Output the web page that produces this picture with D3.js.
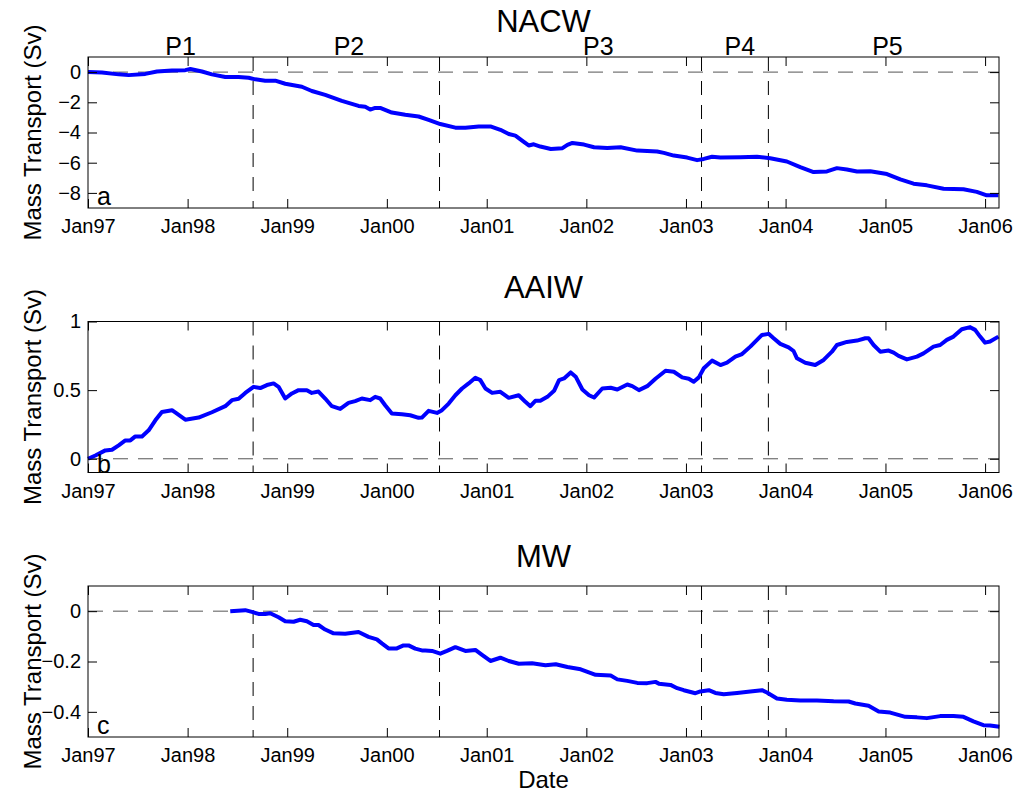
<!DOCTYPE html>
<html>
<head>
<meta charset="utf-8">
<script src="https://cdn.jsdelivr.net/npm/d3@7"></script>
<style>
  body { margin: 0; background: #fff; }
  svg { display: block; }
  text { font-family: "Liberation Sans", Arial, Helvetica, sans-serif; fill: #000; }
</style>
</head>
<body>
<svg id="fig" width="1023" height="792"></svg>
<script>
// Cumulative mass transport (Sv) by water mass, [decimal year, value]
const nacw = [
  [1997.000, 0.00], [1997.140, -0.03], [1997.308, -0.15], [1997.408, -0.20],
  [1997.575, -0.12], [1997.692, 0.04], [1997.843, 0.11], [1997.977, 0.13],
  [1998.027, 0.20], [1998.144, 0.04], [1998.244, -0.15], [1998.378, -0.33],
  [1998.512, -0.33], [1998.612, -0.37], [1998.679, -0.48], [1998.779, -0.57],
  [1998.880, -0.57], [1998.980, -0.77], [1999.147, -0.97], [1999.247, -1.25],
  [1999.381, -1.51], [1999.548, -1.91], [1999.716, -2.24], [1999.783, -2.30],
  [1999.833, -2.48], [1999.883, -2.37], [1999.933, -2.37], [2000.050, -2.68],
  [2000.184, -2.83], [2000.318, -2.94], [2000.418, -3.16], [2000.535, -3.44],
  [2000.686, -3.68], [2000.786, -3.68], [2000.920, -3.60], [2001.037, -3.60],
  [2001.137, -3.82], [2001.221, -4.10], [2001.288, -4.21], [2001.355, -4.54],
  [2001.421, -4.86], [2001.472, -4.78], [2001.538, -4.93], [2001.643, -5.09],
  [2001.760, -5.04], [2001.810, -4.82], [2001.860, -4.69], [2001.977, -4.80],
  [2002.077, -4.98], [2002.210, -5.02], [2002.344, -4.98], [2002.511, -5.20],
  [2002.711, -5.26], [2002.778, -5.35], [2002.878, -5.53], [2003.012, -5.66],
  [2003.112, -5.83], [2003.179, -5.75], [2003.262, -5.61], [2003.346, -5.66],
  [2003.546, -5.64], [2003.713, -5.61], [2003.846, -5.70], [2004.013, -5.92],
  [2004.147, -6.29], [2004.280, -6.62], [2004.414, -6.58], [2004.514, -6.36],
  [2004.614, -6.45], [2004.715, -6.58], [2004.848, -6.56], [2005.015, -6.75],
  [2005.149, -7.11], [2005.282, -7.39], [2005.416, -7.50], [2005.583, -7.72],
  [2005.783, -7.76], [2005.917, -7.93], [2006.017, -8.16], [2006.134, -8.16]
];

const aaiw = [
  [1997.000, 0.000], [1997.074, 0.024], [1997.174, 0.061], [1997.241, 0.066],
  [1997.308, 0.098], [1997.375, 0.134], [1997.425, 0.134], [1997.475, 0.163],
  [1997.542, 0.163], [1997.609, 0.207], [1997.676, 0.280], [1997.742, 0.341],
  [1997.843, 0.354], [1997.893, 0.329], [1997.977, 0.285], [1998.110, 0.300],
  [1998.244, 0.339], [1998.378, 0.383], [1998.445, 0.427], [1998.512, 0.437],
  [1998.579, 0.480], [1998.662, 0.524], [1998.729, 0.515], [1998.796, 0.537],
  [1998.863, 0.549], [1998.913, 0.524], [1998.980, 0.439], [1999.047, 0.476],
  [1999.114, 0.500], [1999.197, 0.500], [1999.247, 0.480], [1999.314, 0.490],
  [1999.381, 0.439], [1999.448, 0.383], [1999.532, 0.363], [1999.615, 0.407],
  [1999.682, 0.420], [1999.749, 0.439], [1999.833, 0.427], [1999.883, 0.451],
  [1999.933, 0.439], [1999.983, 0.390], [2000.050, 0.329], [2000.151, 0.324],
  [2000.234, 0.317], [2000.318, 0.298], [2000.351, 0.300], [2000.418, 0.349],
  [2000.502, 0.334], [2000.552, 0.354], [2000.619, 0.402], [2000.686, 0.463],
  [2000.753, 0.512], [2000.819, 0.549], [2000.886, 0.590], [2000.936, 0.573],
  [2000.987, 0.512], [2001.054, 0.480], [2001.137, 0.488], [2001.221, 0.444],
  [2001.321, 0.463], [2001.388, 0.415], [2001.438, 0.383], [2001.488, 0.422],
  [2001.538, 0.422], [2001.609, 0.451], [2001.676, 0.495], [2001.726, 0.573],
  [2001.776, 0.585], [2001.843, 0.629], [2001.893, 0.598], [2001.960, 0.505],
  [2002.027, 0.463], [2002.077, 0.446], [2002.160, 0.512], [2002.244, 0.517],
  [2002.311, 0.505], [2002.411, 0.541], [2002.461, 0.529], [2002.528, 0.500],
  [2002.611, 0.529], [2002.694, 0.583], [2002.795, 0.641], [2002.878, 0.634],
  [2002.962, 0.593], [2003.028, 0.583], [2003.078, 0.561], [2003.129, 0.593],
  [2003.179, 0.659], [2003.262, 0.715], [2003.346, 0.683], [2003.412, 0.700],
  [2003.496, 0.744], [2003.563, 0.763], [2003.646, 0.817], [2003.763, 0.902],
  [2003.830, 0.910], [2003.880, 0.878], [2003.947, 0.837], [2004.030, 0.812],
  [2004.080, 0.785], [2004.114, 0.732], [2004.197, 0.700], [2004.297, 0.683],
  [2004.381, 0.720], [2004.464, 0.780], [2004.514, 0.829], [2004.614, 0.851],
  [2004.715, 0.861], [2004.798, 0.878], [2004.831, 0.878], [2004.881, 0.829],
  [2004.948, 0.780], [2005.032, 0.788], [2005.082, 0.773], [2005.132, 0.749],
  [2005.215, 0.724], [2005.316, 0.744], [2005.382, 0.768], [2005.482, 0.817],
  [2005.549, 0.829], [2005.616, 0.866], [2005.683, 0.890], [2005.766, 0.944],
  [2005.850, 0.959], [2005.900, 0.939], [2005.950, 0.890], [2006.000, 0.846],
  [2006.050, 0.854], [2006.134, 0.890]
];

const mw = [
  [1998.428, 0.000], [1998.579, 0.004], [1998.645, -0.003], [1998.712, -0.011],
  [1998.779, -0.011], [1998.829, -0.008], [1998.913, -0.024], [1998.980, -0.040],
  [1999.064, -0.042], [1999.130, -0.034], [1999.197, -0.040], [1999.264, -0.055],
  [1999.314, -0.055], [1999.381, -0.073], [1999.465, -0.088], [1999.582, -0.090],
  [1999.716, -0.083], [1999.816, -0.102], [1999.900, -0.112], [1999.950, -0.128],
  [2000.017, -0.148], [2000.100, -0.148], [2000.167, -0.136], [2000.217, -0.136],
  [2000.284, -0.149], [2000.351, -0.156], [2000.385, -0.156], [2000.452, -0.158],
  [2000.535, -0.169], [2000.602, -0.158], [2000.686, -0.143], [2000.786, -0.158],
  [2000.886, -0.154], [2000.953, -0.174], [2001.037, -0.198], [2001.137, -0.185],
  [2001.221, -0.198], [2001.321, -0.209], [2001.455, -0.207], [2001.589, -0.215],
  [2001.693, -0.211], [2001.810, -0.222], [2001.943, -0.231], [2002.093, -0.253],
  [2002.244, -0.256], [2002.311, -0.271], [2002.411, -0.277], [2002.511, -0.285],
  [2002.611, -0.286], [2002.694, -0.281], [2002.728, -0.288], [2002.845, -0.293],
  [2002.912, -0.306], [2002.978, -0.314], [2003.095, -0.326], [2003.145, -0.319],
  [2003.229, -0.314], [2003.295, -0.325], [2003.379, -0.330], [2003.513, -0.325],
  [2003.646, -0.319], [2003.763, -0.314], [2003.813, -0.323], [2003.913, -0.347],
  [2004.013, -0.352], [2004.147, -0.355], [2004.314, -0.355], [2004.481, -0.358],
  [2004.631, -0.359], [2004.698, -0.367], [2004.831, -0.376], [2004.932, -0.399],
  [2005.048, -0.403], [2005.199, -0.420], [2005.316, -0.422], [2005.416, -0.425],
  [2005.549, -0.417], [2005.683, -0.417], [2005.783, -0.420], [2005.883, -0.438],
  [2005.983, -0.453], [2006.050, -0.454], [2006.144, -0.459]
];

const series = [nacw, aaiw, mw];
const titles = ["NACW", "AAIW", "MW"];
const panelLetters = ["a", "b", "c"];
const yDomains = [[-9, 1], [-0.1, 1], [-0.5, 0.1]];
const yTicks = [[-8, -6, -4, -2, 0], [0, 0.5, 1], [-0.4, -0.2, 0]];
const xStart = "1997-01-01";
const xEnd = "2006-02-21";
const xTickYears = [1997, 1998, 1999, 2000, 2001, 2002, 2003, 2004, 2005, 2006];
// Boundaries between the sampling periods P1..P5
const periodBounds = ["1998-08-29", "2000-07-12", "2003-02-27", "2003-10-30"];
const periodLabels = ["P1", "P2", "P3", "P4", "P5"];
const periodLabelAt = [1997.93, 1999.62, 2002.12, 2003.54, 2005.02];

// decimal year -> Date
function decYear(t) {
  const y = Math.floor(t);
  const a = new Date(y, 0, 1), b = new Date(y + 1, 0, 1);
  return new Date(+a + (t - y) * (b - a));
}
const parse = d3.timeParse("%Y-%m-%d");

const svg = d3.select("#fig");
const left = 88, right = 999, panelH = 151;
const tops = [57, 321.5, 586];
const tickLen = 9;

const x = d3.scaleTime().domain([parse(xStart), parse(xEnd)]).range([left, right]);
const xTicks = xTickYears.map(y => new Date(y, 0, 1));
const fmt = d3.timeFormat("%b%y");

series.forEach((data, i) => {
  const top = tops[i], bottom = top + panelH;
  const y = d3.scaleLinear().domain(yDomains[i]).range([bottom, top]);
  const g = svg.append("g");

  // zero reference
  g.append("line")
    .attr("x1", left).attr("x2", right)
    .attr("y1", y(0)).attr("y2", y(0))
    .attr("stroke", "#555").attr("stroke-width", 1)
    .attr("stroke-dasharray", "15,10");

  // period boundaries
  g.selectAll("line.bound").data(periodBounds).join("line")
    .attr("class", "bound")
    .attr("x1", d => x(parse(d))).attr("x2", d => x(parse(d)))
    .attr("y1", top).attr("y2", bottom)
    .attr("stroke", "#000").attr("stroke-width", 1)
    .attr("stroke-dasharray", "14,10");

  // series
  g.append("path")
    .datum(data)
    .attr("fill", "none")
    .attr("stroke", "#0000ff")
    .attr("stroke-width", 4)
    .attr("stroke-linejoin", "round")
    .attr("d", d3.line().x(d => x(decYear(d[0]))).y(d => y(d[1])));

  // axes with inward ticks on all four sides
  const styleAxis = sel => {
    sel.select(".domain").remove();
    sel.selectAll(".tick line").attr("stroke", "#000");
    sel.attr("font-family", "Liberation Sans, Arial, Helvetica, sans-serif").attr("font-size", 20);
    sel.selectAll("text").attr("fill", "#000");
  };
  g.append("g").attr("transform", `translate(0,${bottom})`)
    .call(d3.axisBottom(x).tickValues(xTicks).tickFormat(fmt).tickSize(-tickLen).tickPadding(11))
    .call(styleAxis);
  g.append("g").attr("transform", `translate(0,${top})`)
    .call(d3.axisTop(x).tickValues(xTicks).tickFormat("").tickSize(-tickLen))
    .call(styleAxis);
  g.append("g").attr("transform", `translate(${left},0)`)
    .call(d3.axisLeft(y).tickValues(yTicks[i]).tickFormat(d3.format("")).tickSize(-tickLen).tickPadding(7))
    .call(styleAxis);
  g.append("g").attr("transform", `translate(${right},0)`)
    .call(d3.axisRight(y).tickValues(yTicks[i]).tickFormat("").tickSize(-tickLen))
    .call(styleAxis);

  // frame
  g.append("rect")
    .attr("x", left).attr("y", top)
    .attr("width", right - left).attr("height", panelH)
    .attr("fill", "none").attr("stroke", "#000").attr("stroke-width", 1);

  // title
  const titleBase = i === 0 ? top - 25 : (i === 1 ? top - 23.5 : top - 19.5);
  svg.append("text")
    .attr("x", (left + right) / 2).attr("y", titleBase)
    .attr("text-anchor", "middle").attr("font-size", 31)
    .text(titles[i]);

  // panel letter
  svg.append("text")
    .attr("x", left + 9).attr("y", i === 1 ? bottom : bottom - 3)
    .attr("font-size", 25)
    .text(panelLetters[i]);

  // y label
  svg.append("text")
    .attr("transform", `translate(41,${top + panelH / 2}) rotate(-90)`)
    .attr("text-anchor", "middle").attr("font-size", 24)
    .text("Mass Transport (Sv)");
});

// period labels above the first panel
svg.selectAll("text.period").data(periodLabels).join("text")
  .attr("class", "period")
  .attr("x", (d, k) => x(decYear(periodLabelAt[k])))
  .attr("y", tops[0] - 2)
  .attr("text-anchor", "middle").attr("font-size", 25)
  .text(d => d);

// x label
svg.append("text")
  .attr("x", (left + right) / 2).attr("y", 788)
  .attr("text-anchor", "middle").attr("font-size", 24)
  .text("Date");
</script>
</body>
</html>
